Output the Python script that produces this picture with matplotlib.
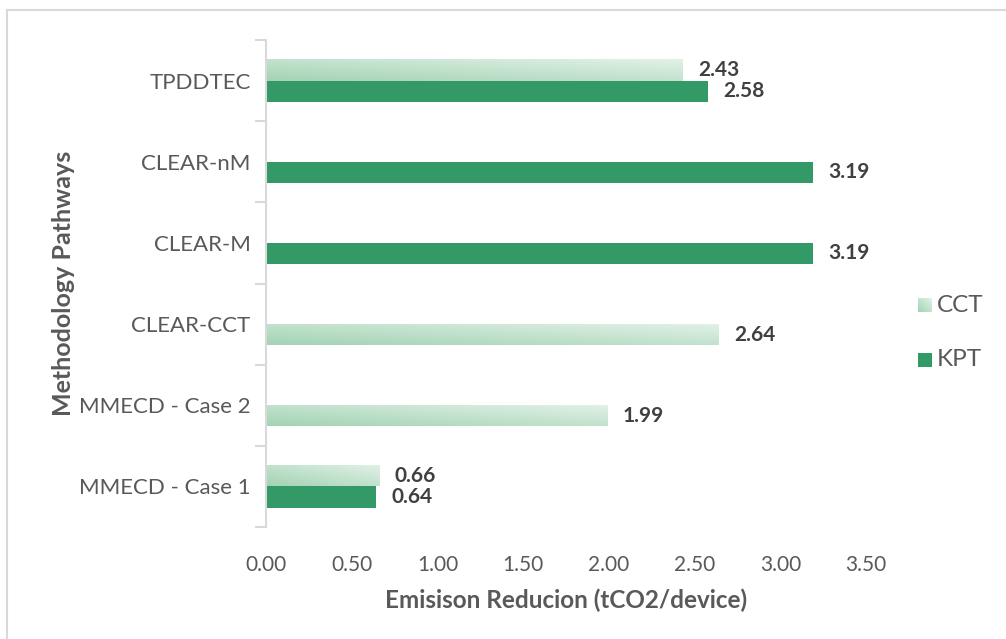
import numpy as np
import matplotlib.pyplot as plt
from matplotlib.patches import Rectangle
from matplotlib.colors import LinearSegmentedColormap

plt.rcParams['font.family'] = ['Lato', 'DejaVu Sans']

# methodology pathways, bottom to top
pathways = ['MMECD - Case 1', 'MMECD - Case 2', 'CLEAR-CCT', 'CLEAR-M', 'CLEAR-nM', 'TPDDTEC']
cct = [0.66, 1.99, 2.64, None, None, 2.43]
kpt = [0.64, None, None, 3.19, 3.19, 2.58]
xticks = [0.0, 0.5, 1.0, 1.5, 2.0, 2.5, 3.0, 3.5]

kpt_color = '#339966'
grad = LinearSegmentedColormap.from_list('cct', ['#a3d3b4', '#e2f1e7'])
grey_axis = '#d9d9d9'
txt = '#595959'

fig = plt.figure(figsize=(10.06, 6.39), dpi=100)
fig.patches.append(Rectangle((7 / 1006, -0.1), 1.2, 1.1 - 10 / 639, transform=fig.transFigure,
                             fill=False, edgecolor='#d9d9d9', linewidth=1.5))
ax = fig.add_axes([266 / 1006, 1 - 527 / 639, 600 / 1006, 487 / 639])

h = 0.26
ramp = np.add.outer(np.linspace(0, 1, 20), np.linspace(0, 1, 200)) / 2


def gradient_bar(y, w):
    r = Rectangle((0, y), w, h, facecolor='none', edgecolor='none')
    ax.add_patch(r)
    im = ax.imshow(ramp, cmap=grad, extent=(0, w, y, y + h), origin='lower',
                   aspect='auto', zorder=2)
    im.set_clip_path(r)


for i, name in enumerate(pathways):
    c, k = cct[i], kpt[i]
    both = c is not None and k is not None
    # single bars sit in the lower slot of the group
    if c is not None:
        y = i if both else i - h
        gradient_bar(y, c)
        ax.text(c + 0.09, y + h / 2, f'{c:.2f}', va='center', ha='left',
                fontsize=15, fontweight='bold', color='#404040')
    if k is not None:
        ax.barh(i - h / 2, k, height=h, color=kpt_color, zorder=2)
        ax.text(k + 0.09, i - h / 2, f'{k:.2f}', va='center', ha='left',
                fontsize=15, fontweight='bold', color='#404040')

ax.set_xlim(0, 3.5)
ax.set_ylim(-0.5, len(pathways) - 0.5)
ax.set_xticks(xticks)
ax.set_xticklabels([f'{t:.2f}' for t in xticks], fontsize=15, color=txt)
ax.set_yticks(range(len(pathways)))
ax.set_yticklabels(pathways, fontsize=16, color=txt)
ax.set_yticks(np.arange(-0.5, len(pathways)), minor=True)
ax.tick_params(axis='x', length=0, pad=20)
ax.tick_params(axis='y', which='major', length=0, pad=11)
ax.tick_params(axis='y', which='minor', length=8, width=1.5, color=grey_axis, direction='out')
for s in ['top', 'right', 'bottom']:
    ax.spines[s].set_visible(False)
ax.spines['left'].set_color(grey_axis)
ax.spines['left'].set_linewidth(1.5)

ax.set_xlabel('Emisison Reducion (tCO2/device)', fontsize=17.5, fontweight='bold',
              color=txt, labelpad=10)
ax.set_ylabel('Methodology Pathways', fontsize=18, fontweight='bold', color=txt, labelpad=3)

# legend with the gradient swatch for CCT
lx, ly = 918 / 1006, 1 - 305 / 639
sw, sh = 14 / 1006, 14 / 639
cct_sw = fig.add_axes([lx, ly - sh / 2, sw, sh])
cct_sw.imshow(ramp, cmap=grad, origin='lower', aspect='auto')
cct_sw.axis('off')
fig.text(lx + sw + 5 / 1006, ly, 'CCT', va='center', ha='left', fontsize=17.5, color=txt)
ly2 = 1 - 360 / 639
fig.patches.append(Rectangle((lx, ly2 - sh / 2), sw, sh, transform=fig.transFigure,
                             facecolor=kpt_color, edgecolor='none'))
fig.text(lx + sw + 5 / 1006, ly2, 'KPT', va='center', ha='left', fontsize=17.5, color=txt)

fig.savefig('out.png', dpi=100)
